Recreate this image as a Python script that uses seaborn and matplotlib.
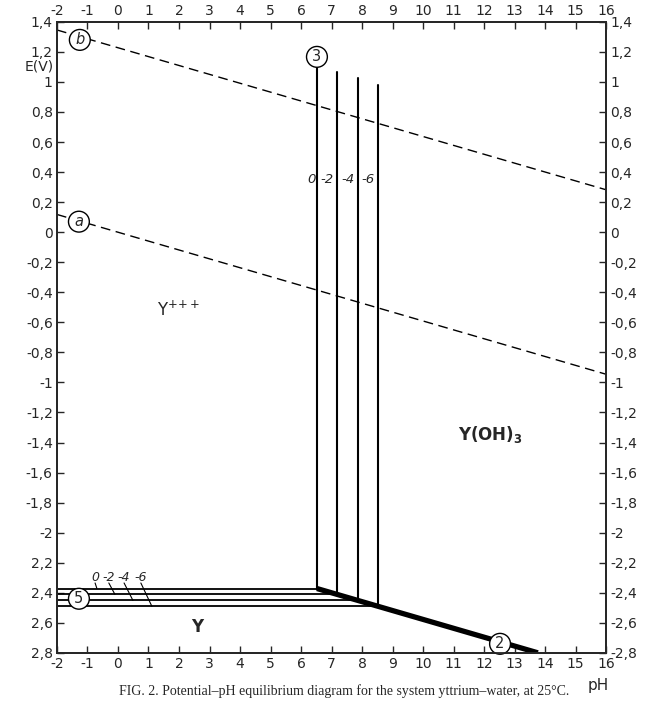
import matplotlib
matplotlib.use("Agg")
from matplotlib import pyplot as plt
import seaborn as sns

# pH axis and water stability lines a, b
ph_ends = [-2, 16]
line_a = [0.118, -0.946]
line_b = [1.346, 0.282]

# Y(OH)3 / Y+++ verticals (line 3), one per log concentration
log_conc = ["0", "-2", "-4", "-6"]
ph_hydrox = [6.52, 7.19, 7.86, 8.52]
top_hydrox = [1.10, 1.065, 1.025, 0.98]

# Y / Y+++ horizontals (line 5)
e_metal = [-2.372, -2.411, -2.451, -2.490]

# Y / Y(OH)3 (line 2)
line2_ph = [6.52, 13.76]
line2_e = [-2.372, -2.8]

yticks = [1.4, 1.2, 1.0, 0.8, 0.6, 0.4, 0.2, 0.0, -0.2, -0.4, -0.6, -0.8, -1.0,
          -1.2, -1.4, -1.6, -1.8, -2.0, -2.2, -2.4, -2.6, -2.8]
left_labels = ["1,4", "1,2", "1", "0,8", "0,6", "0,4", "0,2", "0", "-0,2", "-0,4",
               "-0,6", "-0,8", "-1", "-1,2", "-1,4", "-1,6", "-1,8", "-2",
               "2,2", "2,4", "2,6", "2,8"]
right_labels = ["1,4", "1,2", "1", "0,8", "0,6", "0,4", "0,2", "0", "-0,2", "-0,4",
                "-0,6", "-0,8", "-1", "-1,2", "-1,4", "-1,6", "-1,8", "-2",
                "-2,2", "-2,4", "-2,6", "-2,8"]
xticks = list(range(-2, 17))

sns.set_style("ticks")
plt.rcParams['font.family'] = ['DejaVu Sans']

fig = plt.figure(figsize=(6.47, 7.05), dpi=100)
ax = fig.add_axes([0.088, 0.074, 0.849, 0.895])

k = dict(ax=ax, color="black", sort=False, legend=False, estimator=None)
sns.lineplot(x=ph_ends, y=line_a, lw=1, linestyle=(0, (7, 4)), **k)
sns.lineplot(x=ph_ends, y=line_b, lw=1, linestyle=(0, (7, 4)), **k)
for ph, top, em in zip(ph_hydrox, top_hydrox, e_metal):
    sns.lineplot(x=[ph, ph], y=[em, top], lw=1.5, **k)
    sns.lineplot(x=[-2, ph], y=[em, em], lw=1.3, **k)
sns.lineplot(x=line2_ph, y=line2_e, lw=3.8, solid_capstyle="butt", **k)

# concentration labels on verticals
for ph, lab, dx in zip(ph_hydrox, log_conc, [-0.17, -0.33, -0.32, -0.32]):
    ax.text(ph + dx, 0.35, lab, style="italic", fontsize=9.5, ha="center", va="center")

# concentration labels on horizontals with leaders
hl = [(-0.75, -0.69), (-0.30, -0.10), (0.20, 0.49), (0.75, 1.11)]
for (x0, x1), lab, em in zip(hl, log_conc, e_metal):
    ax.text(x0, -2.30, lab, style="italic", fontsize=9, ha="center", va="center")
    ax.plot([x0, x1], [-2.335, em], color="black", lw=0.8)

# circled line numbers
for ph, e, t in [(-1.25, 1.28, "b"), (-1.28, 0.07, "a"), (6.52, 1.167, "3"),
                 (-1.28, -2.44, "5"), (12.52, -2.74, "2")]:
    ax.text(ph, e, t, fontsize=10.5, ha="center", va="center", zorder=5,
            style="italic" if t in "ab" else "normal",
            bbox=dict(boxstyle="circle,pad=0.2", fc="white", ec="black", lw=1))

ax.text(2.0, -0.52, r"Y$^{+\!+\!+}$", fontsize=12, ha="center", va="center")
ax.text(12.2, -1.35, r"$\mathbf{Y(OH)_3}$", fontsize=12, ha="center", va="center")
ax.text(2.6, -2.63, "Y", fontsize=12, fontweight="bold", ha="center", va="center")

ax.set_xlim(-2, 16)
ax.set_ylim(-2.8, 1.4)
ax.set_xticks(xticks)
ax.set_xticklabels([str(v) for v in xticks])
ax.set_yticks(yticks)
ax.set_yticklabels(left_labels)
ax.tick_params(direction="in", length=5, width=1, top=True, labeltop=True,
               labelsize=10, pad=3)

ax2 = ax.twinx()
ax2.set_ylim(-2.8, 1.4)
ax2.set_yticks(yticks)
ax2.set_yticklabels(right_labels)
ax2.tick_params(direction="in", length=5, width=1, labelsize=10, pad=3)

for a in (ax, ax2):
    for s in a.spines.values():
        s.set_linewidth(1.3)
        s.set_visible(True)

ax.text(-0.006, 0.929, "E(V)", transform=ax.transAxes, fontsize=10, ha="right", va="center")
ax.text(0.985, -0.052, "pH", transform=ax.transAxes, fontsize=11, ha="center", va="center")

fig.text(0.532, 0.02, "FIG. 2. Potential\u2013pH equilibrium diagram for the system yttrium\u2013water, at 25\u00b0C.",
         fontsize=10, family="Liberation Serif", ha="center", va="center")

fig.savefig("out.png", dpi=100)
